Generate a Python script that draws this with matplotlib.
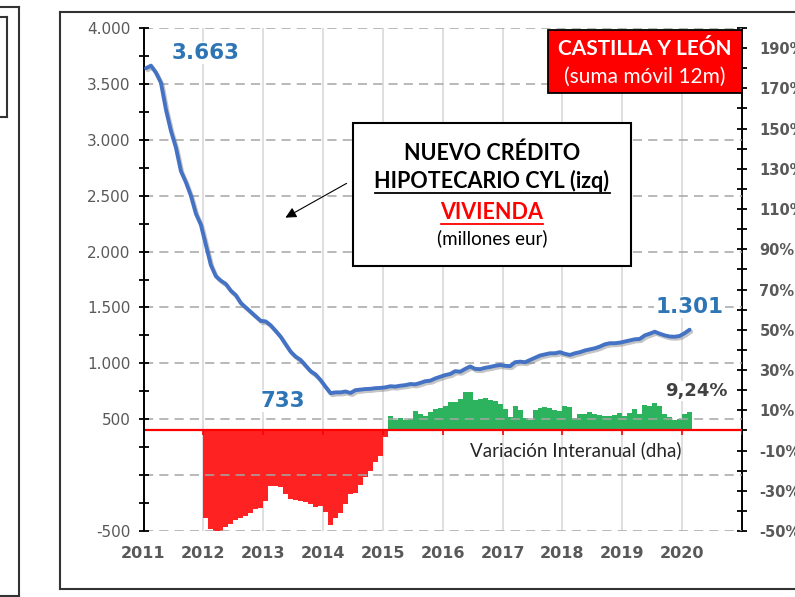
import matplotlib
matplotlib.use('Agg')
import matplotlib.pyplot as plt
import matplotlib.patheffects as pe
from matplotlib.patches import Rectangle
from matplotlib.lines import Line2D
from matplotlib.ticker import FixedLocator, FuncFormatter
import numpy as np

# nuevo credito hipotecario vivienda CYL, suma movil 12m (millones eur), ene 2011 - feb 2020
credito = [3640, 3663, 3600, 3510, 3270, 3080, 2930, 2720, 2620, 2500, 2340, 2240,
           2060, 1880, 1780, 1740, 1710, 1650, 1610, 1540, 1500, 1460, 1420, 1380,
           1375, 1340, 1290, 1238, 1170, 1104, 1060, 1030, 980, 930, 900, 850,
           790, 733, 740, 740, 748, 735, 760, 765, 770, 772, 778, 780,
           785, 795, 792, 800, 805, 815, 812, 825, 840, 845, 865, 880,
           895, 905, 930, 925, 950, 972, 950, 948, 960, 968, 978, 985,
           978, 975, 1010, 1015, 1010, 1030, 1050, 1070, 1080, 1090, 1090, 1100,
           1085, 1075, 1090, 1100, 1115, 1125, 1135, 1150, 1170, 1180, 1180, 1185,
           1195, 1205, 1215, 1218, 1250, 1265, 1283, 1265, 1250, 1240, 1238, 1245,
           1270, 1301]

# variacion interanual (%), ene 2012 - feb 2020
variacion = [-43.3, -49.0, -50.2, -50.0, -48.0, -46.6, -44.6, -43.6, -42.4, -41.0, -39.0, -38.6,
             -35.0, -27.4, -27.8, -28.3, -31.6, -34.0, -34.4, -35.0, -35.8, -36.6, -38.0, -37.4,
             -40.4, -46.9, -43.6, -41.3, -36.6, -31.6, -31.3, -27.0, -23.0, -20.3, -15.6, -12.5,
             -3.5, 7.0, 5.3, 6.1, 5.3, 5.5, 9.5, 8.3, 7.0, 9.1, 10.5, 11.3,
             12.0, 14.1, 14.1, 15.8, 19.1, 19.1, 15.0, 15.5, 16.1, 15.3, 14.5, 13.3,
             10.8, 6.7, 12.0, 10.0, 6.3, 5.3, 10.0, 11.1, 11.6, 11.3, 10.3, 9.6,
             12.0, 11.6, 6.3, 8.3, 8.3, 9.1, 8.3, 7.5, 7.0, 7.0, 7.8, 8.6,
             7.0, 8.6, 10.8, 8.3, 12.5, 12.0, 13.6, 12.0, 8.3, 6.7, 5.3, 5.8,
             8.3, 9.24]

years = list(range(2011, 2021))
left_ticks = list(range(-500, 4001, 500))
right_ticks = list(range(-50, 191, 20))

W, H = 795, 597


def fx(px):
    return px / W


def fy(py):
    return 1 - py / H


fig = plt.figure(figsize=(7.95, 5.97), dpi=100)
ax = fig.add_axes([fx(143.5), fy(531), fx(742) - fx(143.5), fy(28) - fy(531)])
ax2 = ax.twinx()

x_line = 2011 + (np.arange(len(credito)) + 0.5) / 12
x_bar = 2012 + (np.arange(len(variacion)) + 0.5) / 12
var = np.array(variacion)
colors = np.where(var < 0, '#FF2222', '#2DB35E')

# bars on the right axis
ax2.bar(x_bar, var, width=1 / 12, color=colors, linewidth=0, zorder=2)
ax2.axhline(0, color='#FF0000', lw=1.6, zorder=3)
ax2.vlines(years[1:] + [2021], -2.5, 0, color='#FF0000', lw=1.2, zorder=3)
ax2.set_ylim(-50, 200)

# line on the left axis
ax.plot(x_line, credito, color='#4472C4', lw=2.8, solid_capstyle='round', zorder=4,
        path_effects=[pe.SimpleLineShadow(offset=(1.2, -1.5), shadow_color='gray', alpha=0.45),
                      pe.Normal()])
ax.set_ylim(-500, 4000)
ax.set_xlim(2011, 2021)
ax.set_zorder(ax2.get_zorder() + 1)
ax.patch.set_visible(False)

# grid
for y in left_ticks:
    ax.axhline(y, color='#A6A6A6', lw=1.1, ls=(0, (6, 4)), zorder=0)
for yr in years[1:]:
    ax2.axvline(yr, color='#D9D9D9', lw=1.2, zorder=0)

# left axis
ax.yaxis.set_major_locator(FixedLocator(left_ticks))
ax.yaxis.set_minor_locator(FixedLocator(list(range(-250, 4000, 500))))
ax.yaxis.set_major_formatter(FuncFormatter(
    lambda v, p: '' if v == 0 else '{:,.0f}'.format(v).replace(',', '.')))
ax.tick_params(axis='y', which='both', direction='inout', length=7, width=1.3,
               color='black', labelsize=11, labelcolor='#595959', pad=6)
ax.set_xticks(years)
ax.set_xticklabels([str(y) for y in years], fontweight='bold', fontsize=11.5, color='#595959')
ax.tick_params(axis='x', length=0, pad=11)
for s in ['top', 'right', 'bottom']:
    ax.spines[s].set_visible(False)
ax.spines['left'].set_linewidth(1.4)

# right axis
ax2.yaxis.set_major_locator(FixedLocator(right_ticks))
ax2.yaxis.set_minor_locator(FixedLocator(list(range(-40, 201, 20))))
ax2.yaxis.set_major_formatter(FuncFormatter(lambda v, p: '{:.0f}%'.format(v)))
ax2.tick_params(axis='y', which='both', direction='inout', length=7, width=1.3,
                color='black', labelsize=10.5, labelcolor='#595959', pad=9)
for lab in ax2.get_yticklabels():
    lab.set_fontweight('bold')
for s in ['top', 'left', 'bottom']:
    ax2.spines[s].set_visible(False)
ax2.spines['right'].set_linewidth(1.4)

# value labels
wbox = dict(facecolor='white', edgecolor='none', pad=1)
ax.text(2012.03, 3776, '3.663', color='#2E75B6', fontsize=15.5, fontweight='bold',
        ha='center', va='center', bbox=wbox, zorder=5)
ax.text(2013.33, 663, '733', color='#2E75B6', fontsize=15.5, fontweight='bold',
        ha='center', va='center', bbox=wbox, zorder=5)
ax.text(2020.12, 1504, '1.301', color='#2E75B6', fontsize=15.5, fontweight='bold',
        ha='center', va='center', bbox=wbox, zorder=5)
ax2.text(2020.24, 19.6, '9,24%', color='#404040', fontsize=13, fontweight='bold',
         ha='center', va='center', bbox=wbox, zorder=5)
ax2.text(2018.23, -10, 'Variación Interanual (dha)', color='#262626', fontsize=13.5,
         family='Lato', ha='center', va='center', zorder=5)

# title box
fig.add_artist(Rectangle((fx(548), fy(93)), fx(742) - fx(548), fy(30) - fy(93),
                         transform=fig.transFigure, facecolor='#FF0000', edgecolor='black',
                         lw=1.3, zorder=6))
fig.text(fx(645), fy(49), 'CASTILLA Y LEÓN', color='white', fontsize=15, fontweight='bold',
         family='Lato', ha='center', va='center', zorder=7)
fig.text(fx(645), fy(77), '(suma móvil 12m)', color='white', fontsize=15,
         family='Lato', ha='center', va='center', zorder=7)

# legend box
fig.add_artist(Rectangle((fx(353), fy(266)), fx(631) - fx(353), fy(123) - fy(266),
                         transform=fig.transFigure, facecolor='white', edgecolor='black',
                         lw=1.5, zorder=6))
t1 = fig.text(fx(492), fy(153), 'NUEVO CRÉDITO', fontsize=15.5, fontweight='bold',
              family='Lato', ha='center', va='center', zorder=7)
t2 = fig.text(fx(492), fy(181), 'HIPOTECARIO CYL (izq)', fontsize=15.5, fontweight='bold',
              family='Lato', ha='center', va='center', zorder=7)
t3 = fig.text(fx(492), fy(212), 'VIVIENDA', fontsize=15.5, fontweight='bold', color='#FF0000',
              family='Lato', ha='center', va='center', zorder=7)
fig.text(fx(492), fy(238), '(millones eur)', fontsize=13.5, family='Lato',
         ha='center', va='center', zorder=7)

fig.canvas.draw()
r = fig.canvas.get_renderer()
for t, c in [(t2, 'black'), (t3, '#FF0000')]:
    bb = t.get_window_extent(r)
    fig.add_artist(Line2D([bb.x0 / W, bb.x1 / W], [(bb.y0 - 1) / H] * 2,
                          transform=fig.transFigure, color=c, lw=1.3, zorder=7))

ax.annotate('', xy=(283, H - 219), xycoords='figure pixels',
            xytext=(349, H - 182), textcoords='figure pixels',
            arrowprops=dict(arrowstyle='-|>', color='black', lw=0.8, mutation_scale=16))

# outer frames
frame = dict(transform=fig.transFigure, color='#333333', lw=1.5)
fig.add_artist(Line2D([fx(60), 1.0], [fy(12)] * 2, **frame))
fig.add_artist(Line2D([fx(60), 1.0], [fy(589)] * 2, **frame))
fig.add_artist(Line2D([fx(60)] * 2, [fy(12), fy(589)], **frame))
fig.add_artist(Line2D([0, fx(19)], [fy(7)] * 2, **frame))
fig.add_artist(Line2D([0, fx(19)], [fy(596)] * 2, **frame))
fig.add_artist(Line2D([fx(19)] * 2, [fy(7), fy(596)], **frame))
fig.add_artist(Line2D([0, fx(7)], [fy(17)] * 2, **frame))
fig.add_artist(Line2D([0, fx(7)], [fy(117)] * 2, **frame))
fig.add_artist(Line2D([fx(7)] * 2, [fy(17), fy(117)], **frame))

fig.savefig('out.png', dpi=100)
